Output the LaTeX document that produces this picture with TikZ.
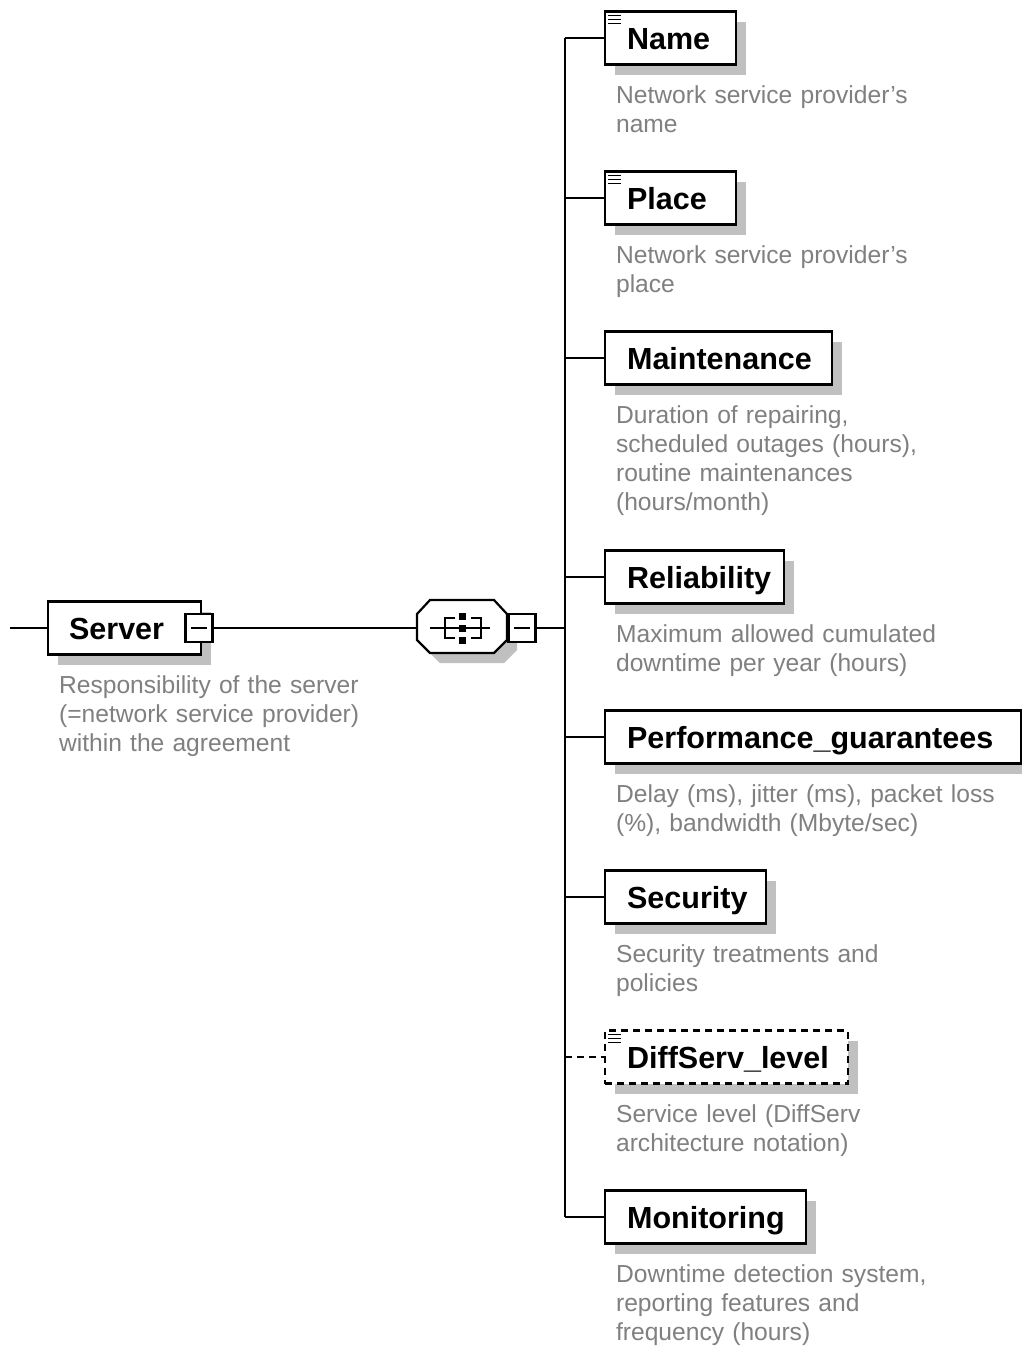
\documentclass[tikz,border=0pt]{standalone}
\usepackage{fontspec}
\setmainfont{Liberation Sans}
\usetikzlibrary{shadows,calc}
\definecolor{descgray}{HTML}{808080}
\definecolor{shadegray}{HTML}{C0C0C0}

% three-line "documentation" mark in the top-left corner of an element box
\newcommand\xsdannot[1]{%
  \foreach \dy in {5,9,13}{\draw[line width=1.8pt] ($(#1.north west)+(4,\dy)$) -- ++(13,0);}}

\begin{document}
\begin{tikzpicture}[x=1pt,y=-1pt,line width=2.2pt,
  elem/.style={draw=black, fill=white, rectangle, minimum height=53pt, inner sep=0pt, anchor=west,
     drop shadow={shadow xshift=10pt, shadow yshift=-10pt, fill=shadegray, opacity=1}},
  optelem/.style={elem, dash pattern=on 7pt off 5pt},
  lbl/.style={anchor=base west, inner sep=0pt, font=\fontsize{30.5}{36}\selectfont\bfseries},
  desc/.style={anchor=base west, inner sep=0pt, text width=420pt, align=left, text=descgray,
     font=\fontsize{24.6}{29}\selectfont},
  minusbox/.style={draw=black, fill=white, rectangle, minimum width=27pt, minimum height=28pt, inner sep=0pt},
  link/.style={draw=black, line width=2.2pt}
]
\fill[white] (0,0) rectangle (1021,1347);
\useasboundingbox (0,0) rectangle (1021,1347);

% ---- root element ----
\node[elem, minimum width=153pt] (server) at (47,628) {};
\node[lbl] (serverlbl) at (68,639) {Server};
\node[minusbox] (smin) at (199,628) {};
\draw ($(smin.center)+(-8,0)$) -- ($(smin.center)+(8,0)$);
\node[desc] (serverdesc) at (58,693) {Responsibility of the server\\(=network service provider)\\within the agreement};

% ---- sequence compositor ----
\node[minimum width=90pt, minimum height=53pt, inner sep=0pt] (seq) at (462,628) {};
\fill[shadegray] (427,624) -- (440,610) -- (504,610) -- (517,624) -- (517,650) -- (504,663) -- (440,663) -- (427,650) -- cycle;
\draw[fill=white] (417,614) -- (430,600) -- (494,600) -- (507,614) -- (507,640) -- (494,653) -- (430,653) -- (417,640) -- cycle;
\draw (430,628) -- (490,628);
\draw (455,618) -- (445,618) -- (445,638) -- (455,638);
\draw (471,618) -- (481,618) -- (481,638) -- (471,638);
\foreach \sy in {616,628,640}{\fill (458.5,\sy-3.5) rectangle (465.5,\sy+3.5);}
\node[minusbox] (cmin) at (522,628) {};
\draw ($(cmin.center)+(-8,0)$) -- ($(cmin.center)+(8,0)$);

% ---- child elements ----
\node[elem, minimum width=131pt] (name) at (604,38) {};
\node[lbl] at (626,49) {Name};
\xsdannot{name}
\node[desc] at (615,103) {Network service provider's\\name};

\node[elem, minimum width=131pt] (place) at (604,198) {};
\node[lbl] at (626,209) {Place};
\xsdannot{place}
\node[desc] at (615,263) {Network service provider's\\place};

\node[elem, minimum width=227pt] (maint) at (604,358) {};
\node[lbl] at (626,369) {Maintenance};
\node[desc] at (615,423) {Duration of repairing,\\scheduled outages (hours),\\routine maintenances\\(hours/month)};

\node[elem, minimum width=179pt] (rel) at (604,577) {};
\node[lbl] at (626,588) {Reliability};
\node[desc] at (615,642) {Maximum allowed cumulated\\downtime per year (hours)};

\node[elem, minimum width=416pt] (perf) at (604,737) {};
\node[lbl] at (626,748) {Performance\_guarantees};
\node[desc] at (615,802) {Delay (ms), jitter (ms), packet loss\\(\%), bandwidth (Mbyte/sec)};

\node[elem, minimum width=161pt] (sec) at (604,897) {};
\node[lbl] at (626,908) {Security};
\node[desc] at (615,962) {Security treatments and\\policies};

\node[optelem, minimum width=243pt] (diff) at (604,1057) {};
\node[lbl] at (626,1068) {DiffServ\_level};
\xsdannot{diff}
\node[desc] at (615,1122) {Service level (DiffServ\\architecture notation)};

\node[elem, minimum width=201pt] (mon) at (604,1217) {};
\node[lbl] at (626,1228) {Monitoring};
\node[desc] at (615,1282) {Downtime detection system,\\reporting features and\\frequency (hours)};

% ---- connectors ----
\coordinate (lstub) at (10,628);
\coordinate (spine) at (565,628);
\draw[link] (lstub) -- (server.west);
\draw[link] (smin.east) -- (seq.west);
\draw[link] (cmin.east) -- (spine);
\draw[link] (spine |- name.west) -- (spine |- mon.west);
\foreach \c in {name,place,maint,rel,perf,sec,mon}{\draw[link] (spine |- \c.west) -- (\c.west);}
\draw[link, dash pattern=on 7pt off 5pt] (spine |- diff.west) -- (diff.west);
\end{tikzpicture}
\end{document}
